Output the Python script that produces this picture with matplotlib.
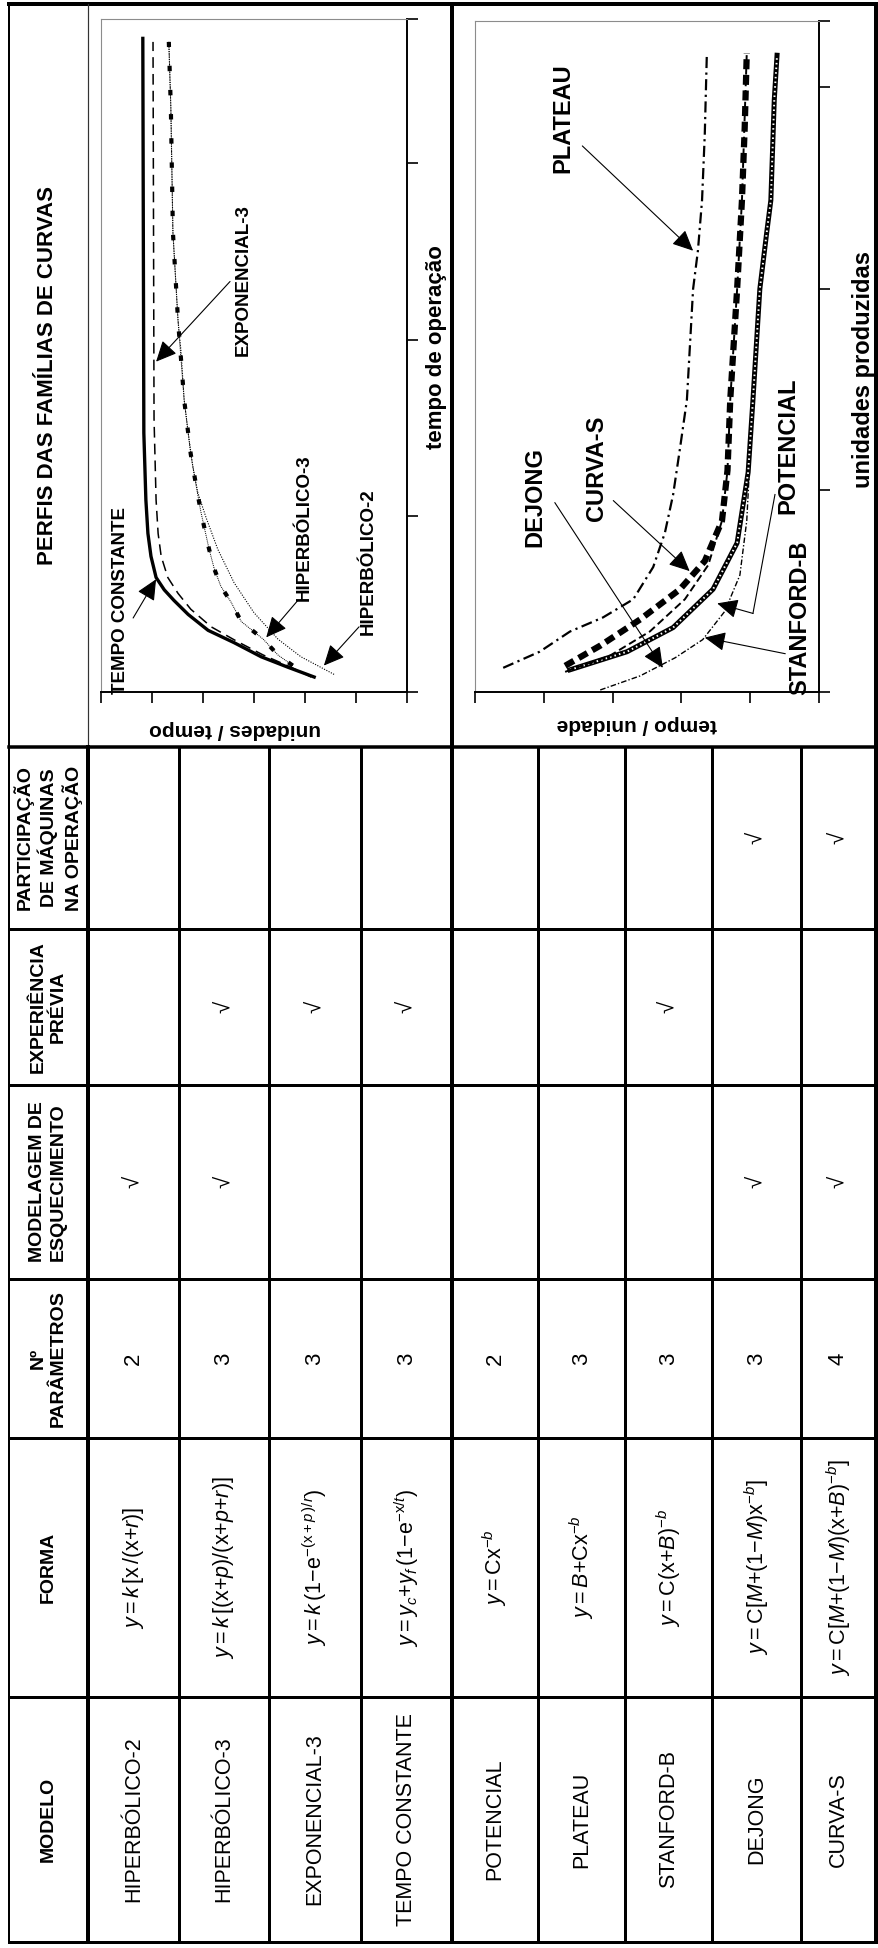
import matplotlib
matplotlib.use('Agg')
import matplotlib.pyplot as plt
from matplotlib import font_manager

W, H = 879, 1948

# ---------------- table content ----------------
headers = ['MODELO', 'FORMA', 'Nº\nPARÂMETROS', 'MODELAGEM DE\nESQUECIMENTO',
           'EXPERIÊNCIA\nPRÉVIA', 'PARTICIPAÇÃO\nDE MÁQUINAS\nNA OPERAÇÃO']
title = 'PERFIS DAS FAMÍLIAS DE CURVAS'

models = ['HIPERBÓLICO-2', 'HIPERBÓLICO-3', 'EXPONENCIAL-3', 'TEMPO CONSTANTE',
          'POTENCIAL', 'PLATEAU', 'STANFORD-B', 'DEJONG', 'CURVA-S']
forms = [
    r'$y=k\,[\mathrm{x}\,/(\mathrm{x}{+}r)]$',
    r'$y=k\,[(\mathrm{x}{+}p)/(\mathrm{x}{+}p{+}r)]$',
    r'$y=k\,(1\mathrm{-e}^{-(\mathrm{x}+p\,)/r})$',
    r'$y=y_c{+}y_f\,(1\mathrm{-e}^{-\mathrm{x}/t})$',
    r'$y=\mathrm{Cx}^{-b}$',
    r'$y=B{+}\mathrm{Cx}^{-b}$',
    r'$y=\mathrm{C}(\mathrm{x}{+}B)^{-b}$',
    r'$y=\mathrm{C}[M{+}(1{-}M)\mathrm{x}^{-b}]$',
    r'$y=\mathrm{C}[M{+}(1{-}M)(\mathrm{x}{+}B)^{-b}]$',
]
n_params = ['2', '3', '3', '3', '2', '3', '3', '3', '4']
forgetting = [1, 1, 0, 0, 0, 0, 0, 1, 1]
experience = [0, 1, 1, 1, 0, 0, 1, 0, 0]
machines = [0, 0, 0, 0, 0, 0, 0, 1, 1]

# ---------------- curve profiles: (value, time) ----------------
# top panel: unidades/tempo vs tempo de operacao
tc_v = [1.82, 2.33, 2.86, 3.39, 3.90, 4.29, 4.57, 4.76, 4.92, 5.02, 5.08, 5.12, 5.16, 5.18]
tc_t = [0.085, 0.14, 0.20, 0.28, 0.35, 0.44, 0.52, 0.58, 0.65, 0.77, 0.90, 1.09, 1.47, 3.71]
ex_v = [1.88, 2.27, 2.82, 3.35, 3.84, 4.24, 4.49, 4.69, 4.82, 4.88, 4.92, 4.96, 4.98]
ex_t = [0.085, 0.14, 0.21, 0.29, 0.37, 0.47, 0.56, 0.65, 0.77, 0.90, 1.09, 1.55, 3.69]
h3_v = [2.24, 2.53, 2.82, 3.25, 3.45, 3.65, 3.78, 3.88, 4.04, 4.14, 4.24, 4.37, 4.49, 4.59, 4.63, 4.67]
h3_t = [0.15, 0.21, 0.30, 0.40, 0.51, 0.60, 0.70, 0.81, 1.02, 1.18, 1.35, 1.66, 2.11, 2.61, 3.31, 3.69]
h2_v = [1.43, 2.08, 2.53, 3.00, 3.39, 3.71, 3.94, 4.10, 4.20, 4.29, 4.37, 4.43, 4.49, 4.59, 4.63, 4.67]
h2_t = [0.10, 0.20, 0.30, 0.45, 0.62, 0.81, 0.99, 1.13, 1.28, 1.47, 1.66, 1.93, 2.11, 2.61, 3.31, 3.69]

# bottom panel: tempo/unidade vs unidades produzidas
pl_v = [4.59, 4.06, 3.62, 3.14, 2.70, 2.41, 2.24, 2.12, 2.02, 1.92, 1.83, 1.76, 1.70, 1.66, 1.63]
pl_u = [0.12, 0.20, 0.30, 0.37, 0.46, 0.62, 0.79, 0.98, 1.21, 1.45, 2.00, 2.19, 2.44, 2.77, 3.17]
cs_v = [3.69, 3.18, 2.60, 2.02, 1.66, 1.41, 1.33, 1.29, 1.19, 1.12, 1.08, 1.05]
cs_u = [0.13, 0.23, 0.36, 0.51, 0.65, 0.85, 1.10, 1.45, 2.00, 2.44, 2.80, 3.17]
dj_v = [3.69, 3.04, 2.46, 1.95, 1.61, 1.41, 1.33, 1.29, 1.19, 1.12, 1.05]
dj_u = [0.10, 0.18, 0.30, 0.46, 0.63, 0.85, 1.10, 1.45, 2.00, 2.44, 3.17]
po_v = [3.62, 2.79, 2.12, 1.54, 1.19, 1.03, 0.96, 0.90, 0.86, 0.76, 0.70, 0.65, 0.61]
po_u = [0.11, 0.20, 0.32, 0.51, 0.74, 1.09, 1.45, 1.78, 2.00, 2.28, 2.44, 2.94, 3.16]
sb_v = [3.18, 2.60, 2.09, 1.69, 1.37, 1.15, 1.05, 0.96, 0.86, 0.70, 0.61]
sb_u = [0.01, 0.08, 0.17, 0.26, 0.40, 0.58, 0.85, 1.45, 2.00, 2.44, 3.16]

# ---------------- fonts ----------------
installed = {f.name for f in font_manager.fontManager.ttflist}
narrow = 'Liberation Sans Narrow' if 'Liberation Sans Narrow' in installed else 'Liberation Sans'
plt.rcParams['font.family'] = ['Liberation Sans', 'DejaVu Sans']
plt.rcParams['mathtext.fontset'] = 'custom'
plt.rcParams['mathtext.rm'] = 'Liberation Sans'
plt.rcParams['mathtext.it'] = 'Liberation Sans:italic'
plt.rcParams['mathtext.bf'] = 'Liberation Sans:bold'

fig = plt.figure(figsize=(W / 100, H / 100), dpi=100)
grid = fig.add_axes([0, 0, 1, 1])
grid.set_xlim(0, W)
grid.set_ylim(H, 0)
grid.axis('off')

PX = 0.72  # points per pixel at 100 dpi
row_edges = [88, 179, 269, 361, 452, 538, 625, 712, 801, 876]
col_edges = [4, 747, 929, 1085, 1279, 1438, 1697, 1942]


def hline(y, x0, x1, w):
    grid.plot([x0, x1], [y, y], color='k', lw=w * PX, solid_capstyle='projecting')


def vline(x, y0, y1, w, color='k'):
    grid.plot([x, x], [y0, y1], color=color, lw=w * PX, solid_capstyle='projecting')


# outer frame and grid
hline(4, 9, 876, 4)
hline(1942, 9, 876, 3)
vline(9, 4, 1942, 2)
vline(876, 4, 1942, 4)
vline(452, 4, 1942, 4)
vline(88, 4, 747, 1.2, color='#333333')
vline(88, 747, 1942, 4)
for x in row_edges[1:4] + row_edges[5:9]:
    vline(x, 747, 1942, 3)
for y in col_edges[1:-1]:
    hline(y, 9, 876, 3.5 if y == 747 else 3)

# header column
hx = 48
grid.text(hx, (col_edges[0] + col_edges[1]) / 2, title, rotation=90, ha='center',
          va='center', fontsize=16, fontweight='bold')
col_order = [6, 5, 4, 3, 2, 1]  # MODELO sits in the last column band
for head, ci in zip(headers, col_order):
    yc = (col_edges[ci] + col_edges[ci + 1]) / 2
    grid.text(hx, yc, head, rotation=90, ha='center', va='center',
              multialignment='center', fontsize=14, fontweight='bold', linespacing=1.25)


def cy(ci):
    return (col_edges[ci] + col_edges[ci + 1]) / 2


# body cells
for i, name in enumerate(models):
    xc = (row_edges[i] + row_edges[i + 1]) / 2
    grid.text(xc, cy(6), name, rotation=90, ha='center', va='center', fontsize=15.5)
    grid.text(xc, cy(5), forms[i], rotation=90, ha='center', va='center', fontsize=15.5)
    grid.text(xc, cy(4), n_params[i], rotation=90, ha='center', va='center', fontsize=16)
    for flag, ci in ((forgetting[i], 3), (experience[i], 2), (machines[i], 1)):
        if flag:
            grid.text(xc, cy(ci), '√', rotation=90, ha='center', va='center', fontsize=16)


def px_axes(x0, y0, x1, y1):
    return fig.add_axes([x0 / W, 1 - y1 / H, (x1 - x0) / W, (y1 - y0) / H])


def style_panel(ax, vmax, tmax, xlabel, ylabel, xl_pos, yl_pos, ysize):
    ax.set_xlim(vmax, 0)
    ax.set_ylim(0, tmax)
    ax.set_xticks(range(vmax + 1))
    ax.set_yticks(list(range(int(tmax) + 1)) + [tmax])
    for side in ('left', 'top'):
        ax.spines[side].set_color('#8c8c8c')
        ax.spines[side].set_linewidth(0.8)
    for side in ('right', 'bottom'):
        ax.spines[side].set_color('k')
        ax.spines[side].set_linewidth(1.4)
    ax.tick_params(axis='x', direction='out', length=8, width=1.2, labelbottom=False)
    ax.tick_params(axis='y', left=False, right=True, direction='out', length=8, width=1.2,
                   labelleft=False, labelright=False)
    ax.text(*xl_pos, xlabel, transform=ax.transAxes, rotation=180, ha='center',
            va='center', fontsize=15, fontweight='bold', family=narrow, clip_on=False)
    ax.text(*yl_pos, ylabel, transform=ax.transAxes, rotation=90, ha='center',
            va='center', fontsize=ysize, fontweight='bold', family=narrow, clip_on=False)


def label(ax, text, xy, tail, head, size=13):
    ax.text(xy[0], xy[1], text, rotation=90, ha='center', va='center', fontsize=size,
            fontweight='bold', family=narrow)
    ax.annotate('', xy=head, xytext=tail,
                arrowprops=dict(arrowstyle='-|>,head_length=0.75,head_width=0.35',
                                mutation_scale=17, lw=0.8, color='k',
                                shrinkA=0, shrinkB=0))


# top panel
ax1 = px_axes(101, 19, 407, 692)
style_panel(ax1, 6, 3.82, 'unidades / tempo', 'tempo de operação',
            (0.438, -0.056), (1.098, 0.513), 16)
ax1.plot(h2_v, h2_t, color='k', lw=0.8, ls=(0, (1, 1.3)))
ax1.plot(h3_v, h3_t, color='k', lw=0.7, ls=(0, (1, 1)))
ax1.plot(h3_v, h3_t, color='k', lw=3.0, ls=(0, (1.3, 4.5)))
ax1.plot(ex_v, ex_t, color='k', lw=1.1, ls=(0, (7, 4)))
ax1.plot(tc_v, tc_t, color='k', lw=2.4)
label(ax1, 'TEMPO CONSTANTE', (5.61, 0.52), (5.37, 0.42), (4.92, 0.64), 13.5)
label(ax1, 'EXPONENCIAL-3', (3.22, 2.34), (3.47, 2.33), (4.92, 1.875), 13.5)
label(ax1, 'HIPERBÓLICO-3', (2.02, 0.93), (2.14, 0.52), (2.76, 0.31), 13.5)
label(ax1, 'HIPERBÓLICO-2', (0.76, 0.74), (0.94, 0.37), (1.63, 0.15), 13.5)

# bottom panel
ax2 = px_axes(475, 21, 819, 692)
style_panel(ax2, 5, 3.33, 'tempo / unidade', 'unidades produzidas',
            (0.471, -0.048), (1.128, 0.481), 17)
ax2.plot(pl_v, pl_u, color='k', lw=1.6, ls=(0, (5, 2, 1, 2)))
ax2.plot(sb_v, sb_u, color='k', lw=1.0, ls=(0, (4, 1.5, 1, 1.5)))
ax2.plot(po_v, po_u, color='k', lw=3.6)
ax2.plot(po_v, po_u, color='white', lw=1.4, ls=(0, (0.8, 1.6)))
ax2.plot(dj_v, dj_u, color='k', lw=1.4, ls=(0, (4, 2)))
ax2.plot(cs_v, cs_u, color='k', lw=4.5, ls=(0, (1.6, 0.9)))
label(ax2, 'PLATEAU', (3.72, 2.85), (3.44, 2.71), (1.83, 2.19), 17)
label(ax2, 'DEJONG', (4.13, 0.97), (3.84, 0.94), (2.27, 0.12), 17)
label(ax2, 'CURVA-S', (3.23, 1.11), (2.99, 0.95), (1.88, 0.60), 17)
label(ax2, 'POTENCIAL', (0.45, 1.22), (0.96, 0.39), (1.48, 0.44), 17)
ax2.plot([0.64, 0.96], [0.98, 0.39], color='k', lw=0.8)
label(ax2, 'STANFORD-B', (0.28, 0.37), (0.49, 0.19), (1.66, 0.27), 17)

fig.savefig('out.png', dpi=100)
